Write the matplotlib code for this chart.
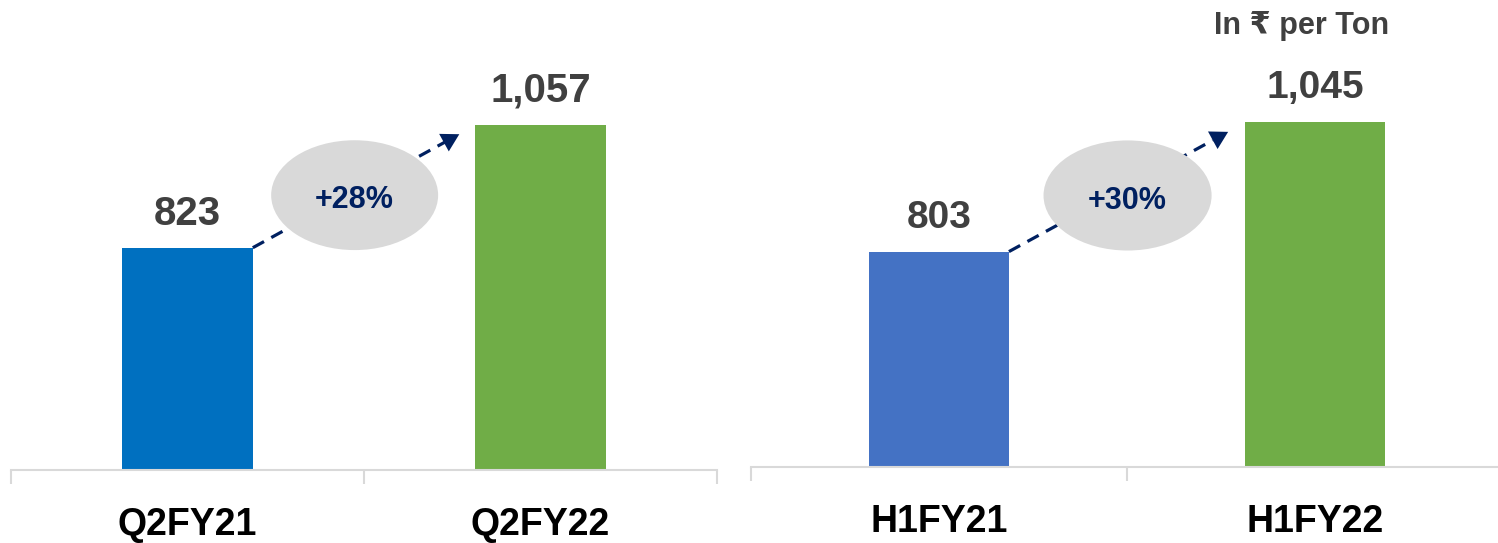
import matplotlib
matplotlib.use("Agg")
import matplotlib.pyplot as plt
from matplotlib.patches import Ellipse

# ---------------- data ----------------
left_categories = ["Q2FY21", "Q2FY22"]
left_values = [823, 1057]
left_change = "+28%"

right_categories = ["H1FY21", "H1FY22"]
right_values = [803, 1045]
right_change = "+30%"

unit_label = "In \u20b9 per Ton"

# ---------------- style ----------------
FONT = ["Liberation Sans Narrow", "Liberation Sans", "DejaVu Sans"]
plt.rcParams["font.family"] = FONT
plt.rcParams["font.weight"] = "bold"

left_colors = ["#0070C0", "#70AD47"]
right_colors = ["#4472C4", "#70AD47"]
NAVY = "#002060"
DARK = "#404040"
AXIS_GREY = "#D9D9D9"
ELLIPSE_GREY = "#D9D9D9"

W, H = 1498, 543
fig = plt.figure(figsize=(W / 100, H / 100), dpi=100)


def px_axes(x0, x1, y_axis):
    return fig.add_axes([x0 / W, (H - y_axis) / H, (x1 - x0) / W, y_axis / H])


def panel(ax, cats, vals, colors, change, ymax, bar_w, lab_size, ell_dx, ell_dy,
          ell_w, ell_h):
    xs = list(range(len(cats)))
    ax.bar(xs, vals, width=bar_w, color=colors, zorder=2)
    ax.set_xlim(-0.5, len(cats) - 0.5)
    ax.set_ylim(400, ymax)
    for s in ["top", "right", "left"]:
        ax.spines[s].set_visible(False)
    ax.spines["bottom"].set_color(AXIS_GREY)
    ax.spines["bottom"].set_linewidth(1.5)
    ax.set_yticks([])
    ax.set_xticks(xs)
    ax.set_xticklabels(cats, fontsize=27, fontweight="bold", color="black",
                       family=FONT)
    ax.tick_params(axis="x", which="major", length=0, pad=26.5)
    ax.set_xticks([x - 0.5 for x in xs] + [xs[-1] + 0.5], minor=True)
    ax.tick_params(axis="x", which="minor", length=10, width=1.5,
                   color=AXIS_GREY, direction="out")
    for x, v in zip(xs, vals):
        ax.annotate(f"{v:,}", xy=(x, v), xytext=(0, 34),
                    textcoords="offset pixels", ha="center", va="center",
                    fontsize=lab_size, fontweight="bold", color=DARK,
                    family=FONT)
    x0 = xs[0] + bar_w / 2
    y0 = vals[0]
    x1 = xs[1] - bar_w / 2 - 0.045
    y1 = vals[1] - 18
    fx = 0.93
    xm = x0 + (x1 - x0) * fx
    ym = y0 + (y1 - y0) * fx
    ax.plot([x0, xm], [y0, ym], color=NAVY, lw=2.3, linestyle=(0, (4, 2.6)),
            solid_capstyle="butt", dash_capstyle="butt", zorder=3)
    ax.annotate("", xy=(x1, y1), xytext=(xm, ym),
                arrowprops=dict(arrowstyle="-|>,head_length=0.7,head_width=0.4",
                                color=NAVY, lw=0, mutation_scale=18,
                                shrinkA=0, shrinkB=0), zorder=3)
    cx = (x0 + x1) / 2 + ell_dx
    cy = (y0 + y1) / 2 + ell_dy
    ax.add_patch(Ellipse((cx, cy), ell_w, ell_h, facecolor=ELLIPSE_GREY,
                         edgecolor="none", zorder=4))
    ax.text(cx, cy - 10, change, ha="center", va="center", fontsize=22,
            fontweight="bold", color=NAVY, zorder=5, family=FONT)


axL = px_axes(11, 717, 470)
panel(axL, left_categories, left_values, left_colors, left_change,
      ymax=400 + 470 / 0.5255, bar_w=0.37, lab_size=29,
      ell_dx=-0.004, ell_dy=-8, ell_w=0.473, ell_h=209)

axR = px_axes(751, 1503, 467)
panel(axR, right_categories, right_values, right_colors, right_change,
      ymax=400 + 467 / 0.5345, bar_w=0.372, lab_size=28,
      ell_dx=0.024, ell_dy=-7, ell_w=0.447, ell_h=206)

fig.text(1302 / W, 1 - 26 / H, unit_label, ha="center", va="center",
         fontsize=22, fontweight="bold", color=DARK, family=FONT)

fig.savefig("out.png", dpi=100)
